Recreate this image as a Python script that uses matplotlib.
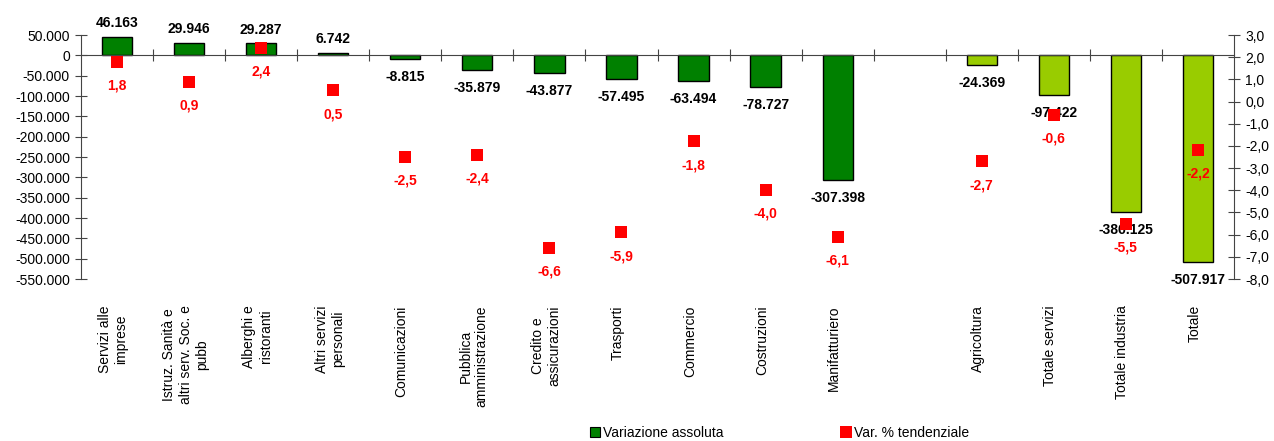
import numpy as np
import matplotlib
matplotlib.use('Agg')
import matplotlib.pyplot as plt
import matplotlib.transforms as mtransforms
from matplotlib.patches import Patch
from matplotlib.lines import Line2D

plt.rcParams['font.family'] = ['Liberation Sans', 'DejaVu Sans']

# ------------------------------------------------------------------ #
#                               Data                                 #
# ------------------------------------------------------------------ #

categories = ['Servizi alle\nimprese', 'Istruz. Sanità e\naltri serv. Soc. e\npubb',
              'Alberghi e\nristoranti', 'Altri servizi\npersonali', 'Comunicazioni',
              'Pubblica\namministrazione', 'Credito e\nassicurazioni', 'Trasporti',
              'Commercio', 'Costruzioni', 'Manifatturiero', '',
              'Agricoltura', 'Totale servizi', 'Totale industria', 'Totale']

var_assoluta = [46163, 29946, 29287, 6742, -8815, -35879, -43877, -57495,
                -63494, -78727, -307398, np.nan,
                -24369, -97422, -386125, -507917]

var_perc = [1.8, 0.9, 2.4, 0.5, -2.5, -2.4, -6.6, -5.9,
            -1.8, -4.0, -6.1, np.nan,
            -2.7, -0.6, -5.5, -2.2]

# totals are drawn in light green
is_total = [False] * 12 + [True] * 4

left_ticks = np.arange(-550000, 50001, 50000)
right_ticks = np.arange(-8, 3.01, 1)

DARK_GREEN = '#008000'
LIGHT_GREEN = '#99CC00'
RED = '#FF0000'
AXIS_GREY = '#444444'


def fmt_thousands(v):
    return f'{v:,.0f}'.replace(',', '.')


def fmt_dec(v):
    return f'{v:.1f}'.replace('.', ',')


# ------------------------------------------------------------------ #
#                               Plot                                 #
# ------------------------------------------------------------------ #

fig = plt.figure(figsize=(12.74, 4.41), dpi=100)
ax = fig.add_axes([0.0636, 0.3673, 0.905, 0.5533])
ax2 = ax.twinx()

x = np.arange(len(categories))
vals = np.array(var_assoluta, dtype=float)
has_bar = ~np.isnan(vals)
colors = [LIGHT_GREEN if t else DARK_GREEN for t in is_total]
ax.bar(x[has_bar], vals[has_bar], width=0.42,
       color=[c for c, h in zip(colors, has_bar) if h],
       edgecolor='black', linewidth=1.0, zorder=2)

ax.set_xlim(-0.5, len(categories) - 0.5)
ax.set_ylim(-550000, 50000)
ax.set_yticks(left_ticks)
ax.set_yticklabels([fmt_thousands(v) for v in left_ticks], fontsize=10)

# zero line with category boundary ticks
ax.spines['bottom'].set_position(('data', 0))
ax.spines['bottom'].set_color(AXIS_GREY)
ax.spines['left'].set_color(AXIS_GREY)
ax.spines['top'].set_visible(False)
ax.spines['right'].set_visible(False)
ax.set_xticks(np.arange(0.5, len(categories) - 0.5, 1))
ax.tick_params(axis='x', direction='inout', length=9, labelbottom=False, color=AXIS_GREY)
ax.tick_params(axis='y', direction='inout', length=8, pad=4, color=AXIS_GREY)

# bar value labels
for xi, v in zip(x, vals):
    if np.isnan(v):
        continue
    off = 10 if v > 0 else -13
    ax.annotate(fmt_thousands(v), (xi, v), xytext=(0, off), textcoords='offset points',
                ha='center', va='center', fontsize=10, fontweight='bold', zorder=5)

# category labels under the plot
trans = mtransforms.blended_transform_factory(ax.transData, ax.transAxes)
for xi, lab in zip(x, categories):
    ax.text(xi - 0.05, -0.107, lab, rotation=90, ha='center', va='top',
            multialignment='center', fontsize=10, transform=trans)

# percent markers on the right axis
pv = np.array(var_perc, dtype=float)
ax2.plot(x, pv, linestyle='none', marker='s', markersize=8.5, color=RED,
         markeredgewidth=0, zorder=4)
for xi, v in zip(x, pv):
    if np.isnan(v):
        continue
    ax2.annotate(fmt_dec(v), (xi, v), xytext=(0, -17), textcoords='offset points',
                 ha='center', va='center', fontsize=10, fontweight='bold', color=RED)

ax2.set_ylim(-8, 3)
ax2.set_yticks(right_ticks)
ax2.set_yticklabels([fmt_dec(v) for v in right_ticks], fontsize=10)
ax2.tick_params(axis='y', direction='inout', length=8, pad=4, color=AXIS_GREY)
for side in ['top', 'bottom', 'left']:
    ax2.spines[side].set_visible(False)
ax2.spines['right'].set_color(AXIS_GREY)

# legend
handles = [Patch(facecolor=DARK_GREEN, edgecolor='black', linewidth=0.8),
           Line2D([], [], linestyle='none', marker='s', markersize=8, color=RED,
                  markeredgewidth=0)]
fig.legend(handles, ['Variazione assoluta', 'Var. % tendenziale'], loc='center',
           bbox_to_anchor=(0.612, 0.018), ncol=2, frameon=False, fontsize=10,
           handlelength=0.7, handleheight=0.7, handletextpad=0.2, columnspacing=8.5)

fig.savefig('out.png', dpi=100)
